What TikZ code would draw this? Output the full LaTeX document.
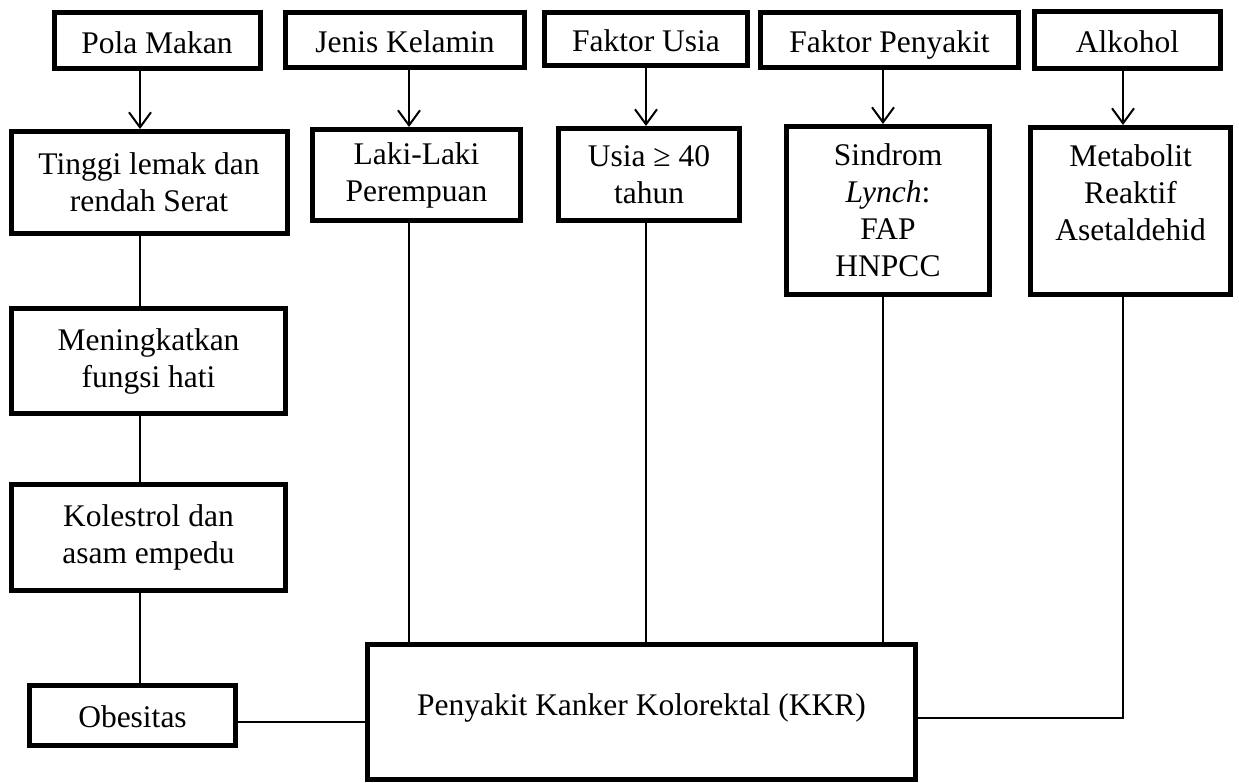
\documentclass[tikz,border=0pt]{standalone}
\usepackage{fontspec}
\setmainfont{Liberation Serif}
\usetikzlibrary{arrows.meta}
\begin{document}
\begin{tikzpicture}[x=1pt,y=-1pt,
  box/.style={draw=black, line width=5pt, fill=white, inner sep=0pt, align=center,
    font=\fontsize{31.5}{37}\selectfont},
  toprow/.style={box, text height=28pt, text depth=3pt},
  conn/.style={draw=black, line width=2pt},
  arr/.style={conn, -{Straight Barb[length=15pt,width=22pt]}}]
\fill[white] (0,0) rectangle (1239,782);
\useasboundingbox (0,0) rectangle (1239,782);
% top row
\node[toprow, minimum width=206pt, minimum height=56pt] (pola) at (157,40.5) {Pola Makan};
\node[toprow, minimum width=239pt, minimum height=55pt] (jenis) at (405,40) {Jenis Kelamin};
\node[toprow, minimum width=203pt, minimum height=53pt] (fusia) at (646,39) {Faktor Usia};
\node[toprow, minimum width=258pt, minimum height=55pt] (fpeny) at (889.5,40) {Faktor Penyakit};
\node[toprow, minimum width=186pt, minimum height=57pt] (alk) at (1127.5,40) {Alkohol};
% second row
\node[box, minimum width=276pt, minimum height=102pt] (tinggi) at (149,182.5) {Tinggi lemak dan\\rendah Serat};
\node[box, minimum width=208pt, minimum height=91pt] (laki) at (416.5,175) {Laki-Laki\\Perempuan};
\node[box, minimum width=181pt, minimum height=92pt] (usia) at (649,174.5) {Usia ≥ 40\\tahun};
\node[box, minimum width=203pt, minimum height=168pt] (sind) at (888,210.5) {Sindrom\\\textit{Lynch}:\\FAP\\HNPCC};
\node[box, minimum width=200pt, minimum height=167pt] (metab) at (1130.5,211) {Metabolit\\Reaktif\\Asetaldehid\\\mbox{}};
% left column
\node[box, minimum width=274pt, minimum height=105pt] (mening) at (148.5,361) {Meningkatkan\\fungsi hati};
\node[box, minimum width=274pt, minimum height=106pt] (koles) at (148.5,537.5) {Kolestrol dan\\asam empedu};
\node[box, minimum width=206pt, minimum height=60pt, text height=26pt, text depth=3pt] (obes) at (132.5,715.5) {Obesitas};
% main
\node[box, minimum width=548pt, minimum height=135pt, text height=22pt, text depth=16pt] (kkr) at (641.5,712) {Penyakit Kanker Kolorektal (KKR)};
% column coordinates
\coordinate (c1) at (140,0);
\coordinate (c2) at (409,0);
\coordinate (c3) at (646,0);
\coordinate (c4) at (883,0);
\coordinate (c5) at (1123,0);
\coordinate (hl) at (0,722);
\coordinate (hr) at (0,718);
% arrows
\draw[arr] (pola.south -| c1) -- (tinggi.north -| c1);
\draw[arr] (jenis.south -| c2) -- (laki.north -| c2);
\draw[arr] (fusia.south -| c3) -- (usia.north -| c3);
\draw[arr] (fpeny.south -| c4) -- (sind.north -| c4);
\draw[arr] (alk.south -| c5) -- (metab.north -| c5);
% left chain
\draw[conn] (tinggi.south -| c1) -- (mening.north -| c1);
\draw[conn] (mening.south -| c1) -- (koles.north -| c1);
\draw[conn] (koles.south -| c1) -- (obes.north -| c1);
\draw[conn] (obes.east |- hl) -- (kkr.west |- hl);
% to KKR
\draw[conn] (laki.south -| c2) -- (kkr.north -| c2);
\draw[conn] (usia.south -| c3) -- (kkr.north -| c3);
\draw[conn] (sind.south -| c4) -- (kkr.north -| c4);
\draw[conn] (metab.south -| c5) |- (kkr.east |- hr);
\end{tikzpicture}
\end{document}
